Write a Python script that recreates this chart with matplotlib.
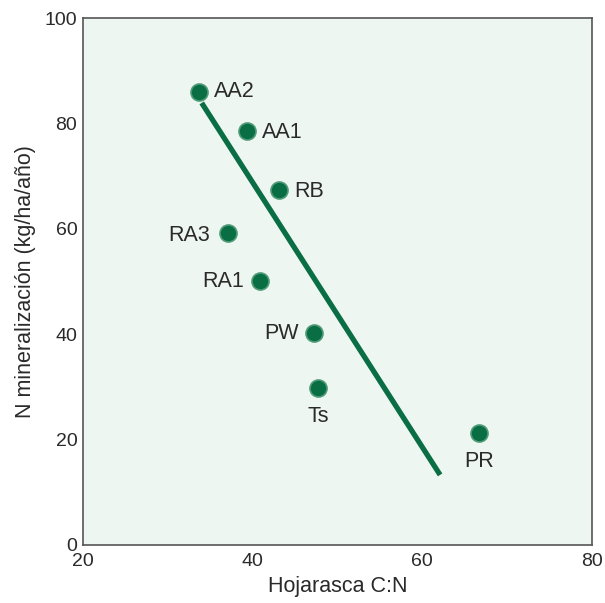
import matplotlib
matplotlib.use("Agg")
import matplotlib.pyplot as plt

plt.rcParams['font.family'] = ['Liberation Sans', 'DejaVu Sans']

# Site data: litter C:N vs N mineralization
sites = ["AA2", "AA1", "RB", "RA3", "RA1", "PW", "Ts", "PR"]
cn_ratio = [33.7, 39.3, 43.1, 37.1, 40.9, 47.2, 47.7, 66.7]
n_mineral = [86.0, 78.6, 67.4, 59.2, 50.1, 40.2, 29.8, 21.3]

# Regression line endpoints
fit_x = [34.0, 62.1]
fit_y = [83.9, 13.3]

x_ticks = [20, 40, 60, 80]
y_ticks = [0, 20, 40, 60, 80, 100]

# label placement: (dx points, dy points, ha, va)
label_pos = {
    "AA2": (11, 0, "left", "center"),
    "AA1": (11, -1, "left", "center"),
    "RB": (11, -1, "left", "center"),
    "RA3": (-13, -2, "right", "center"),
    "RA1": (-12, 0, "right", "center"),
    "PW": (-11, 0, "right", "center"),
    "Ts": (0, -13, "center", "top"),
    "PR": (0, -13, "center", "top"),
}

green = "#0a6e45"
text_col = "#2a2a2a"
fig = plt.figure(figsize=(6.05, 6.03), dpi=100)
ax = fig.add_axes([0.137, 0.0962, 0.8415, 0.8738])
ax.set_facecolor("#eef6f1")

ax.plot(fit_x, fit_y, color=green, lw=3.8, solid_capstyle="butt", zorder=2)
ax.scatter(cn_ratio, n_mineral, s=150, color=green, edgecolor="#4f9a77",
           linewidth=1.2, zorder=3)

for name, x, y in zip(sites, cn_ratio, n_mineral):
    dx, dy, ha, va = label_pos[name]
    ax.annotate(name, (x, y), xytext=(dx, dy), textcoords="offset points",
                ha=ha, va=va, fontsize=15.5, color=text_col)

ax.set_xlim(20, 80)
ax.set_ylim(0, 100)
ax.set_xticks(x_ticks)
ax.set_yticks(y_ticks)
ax.tick_params(labelsize=14, labelcolor=text_col, length=0)
ax.tick_params(axis="x", pad=6)
ax.tick_params(axis="y", pad=4)
for sp in ax.spines.values():
    sp.set_color("#555555")
    sp.set_linewidth(1.2)

ax.set_xlabel("Hojarasca C:N", fontsize=15.5, color=text_col, labelpad=4)
ax.set_ylabel("N mineralización (kg/ha/año)", fontsize=15.5, color=text_col, labelpad=6)

fig.savefig("out.png", dpi=100)
